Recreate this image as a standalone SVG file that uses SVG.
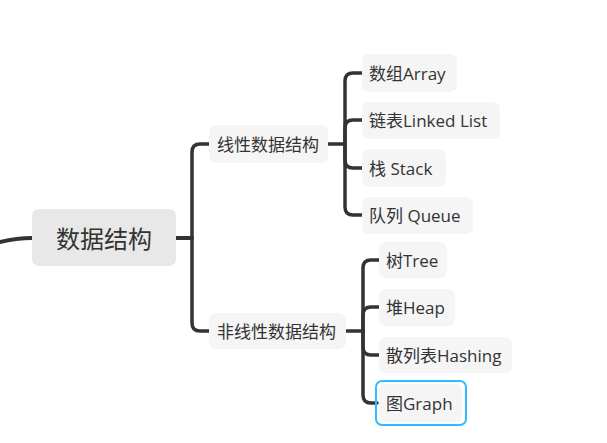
<svg xmlns="http://www.w3.org/2000/svg" width="607" height="443" viewBox="0 0 607 443">
<style>
.c{fill:none;stroke:#333;stroke-width:3.5;stroke-linecap:round;stroke-linejoin:round}
.n{fill:#f5f5f5}
.t{font-family:"Open Sans","Noto Sans CJK SC",sans-serif;fill:#333;dominant-baseline:central}
</style>
<rect width="607" height="443" fill="#ffffff"/>
<g id="connectors">
<path class="c" style="stroke-width:4" d="M-20,248 Q8,238 32,238"/>
<path class="c" style="stroke-width:4" d="M176,238 H192"/>
<path class="c" d="M192,238 V152 Q192,144 200,144 H209"/>
<path class="c" d="M192,238 V323 Q192,331 200,331 H209"/>
<path class="c" d="M328,144 H345"/>
<path class="c" d="M345,144 V81 Q345,73 353,73 H362"/>
<path class="c" d="M345,144 V128 Q345,120 353,120 H362"/>
<path class="c" d="M345,144 V160 Q345,168 353,168 H362"/>
<path class="c" d="M345,144 V207 Q345,215 353,215 H362"/>
<path class="c" d="M346,331 H363"/>
<path class="c" d="M363,331 V268 Q363,260 371,260 H379"/>
<path class="c" d="M363,331 V315 Q363,307 371,307 H379"/>
<path class="c" d="M363,331 V347 Q363,355 371,355 H379"/>
<path class="c" d="M363,331 V395 Q363,403 371,403 H377"/>
</g>
<g id="root">
<rect x="32" y="209" width="144" height="57" rx="7" fill="#e8e8e8"/>
<text class="t" x="104" y="238" font-size="24" text-anchor="middle">数据结构</text>
</g>
<g id="linear">
<rect class="n" x="209" y="125" width="119" height="38" rx="7"/>
<text class="t" x="217" y="144" font-size="17">线性数据结构</text>
</g>
<g id="nonlinear">
<rect class="n" x="209" y="313" width="137" height="36" rx="7"/>
<text class="t" x="217" y="331" font-size="17">非线性数据结构</text>
</g>
<g id="array">
<rect class="n" x="362" y="54" width="95" height="38" rx="7"/>
<text class="t" x="369" y="73" font-size="17">数组Array</text>
</g>
<g id="linkedlist">
<rect class="n" x="362" y="102" width="138" height="37" rx="7"/>
<text class="t" x="369" y="120" font-size="17">链表Linked List</text>
</g>
<g id="stack">
<rect class="n" x="362" y="149" width="84" height="38" rx="7"/>
<text class="t" x="369" y="168" font-size="17">栈 Stack</text>
</g>
<g id="queue">
<rect class="n" x="362" y="197" width="111" height="37" rx="7"/>
<text class="t" x="369" y="215" font-size="17">队列 Queue</text>
</g>
<g id="tree">
<rect class="n" x="379" y="242" width="68" height="36" rx="7"/>
<text class="t" x="386" y="260" font-size="17">树Tree</text>
</g>
<g id="heap">
<rect class="n" x="379" y="289" width="76" height="37" rx="7"/>
<text class="t" x="386" y="307" font-size="17">堆Heap</text>
</g>
<g id="hashing">
<rect class="n" x="379" y="337" width="133" height="36" rx="7"/>
<text class="t" x="386" y="355" font-size="17">散列表Hashing</text>
</g>
<g id="graph">
<rect class="n" x="379" y="384" width="83" height="38" rx="6"/>
<rect x="376" y="381" width="90" height="44" rx="6" fill="none" stroke="#2ebdff" stroke-width="2"/>
<text class="t" x="386" y="403" font-size="17">图Graph</text>
</g>
</svg>
